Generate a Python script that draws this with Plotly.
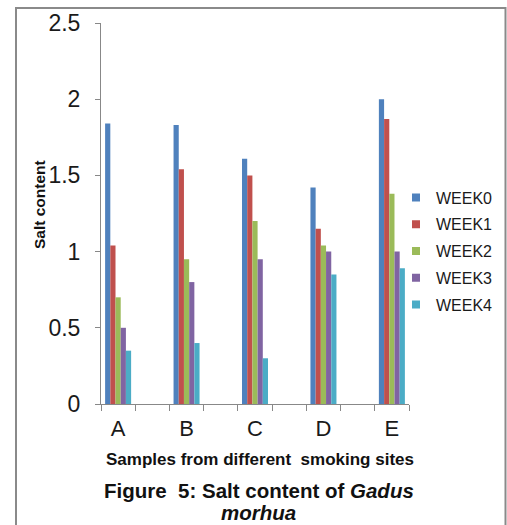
import plotly.graph_objects as go

# Salt content of smoked Gadus morhua, by smoking site and storage week
sites = ["A", "B", "C", "D", "E"]
weeks = ["WEEK0", "WEEK1", "WEEK2", "WEEK3", "WEEK4"]
week0 = [1.84, 1.83, 1.61, 1.42, 2.00]
week1 = [1.04, 1.54, 1.50, 1.15, 1.87]
week2 = [0.70, 0.95, 1.20, 1.04, 1.38]
week3 = [0.50, 0.80, 0.95, 1.00, 1.00]
week4 = [0.35, 0.40, 0.30, 0.85, 0.89]
y_ticks = [0, 0.5, 1, 1.5, 2, 2.5]
y_tick_text = ["0", "0.5", "1", "1.5", "2", "2.5"]

series = [week0, week1, week2, week3, week4]
colors = ["#4F81BD", "#C0504D", "#9BBB59", "#8064A2", "#4BACC6"]

# empty slots between sites give the wide spacing between groups
slots = ["A", " ", "B", "  ", "C", "   ", "D", "    ", "E"]

W, H = 507, 525
L, R, T, B = 101, 98, 23, 121
pw, ph = W - L - R, H - T - B


def px(x):
    return (x - L) / pw


def py(y):
    return (H - B - y) / ph


FONT = "Liberation Sans, Arial, sans-serif"

fig = go.Figure()
for name, vals, col in zip(weeks, series, colors):
    fig.add_trace(go.Bar(
        x=sites, y=vals, name=name, marker_color=col,
        marker_line_width=0, showlegend=False, legendgroup=name,
    ))
    fig.add_trace(go.Scatter(
        x=[None], y=[None], mode="markers", name=name, legendgroup=name,
        marker=dict(symbol="square", size=8, color=col),
    ))


def label(text, x, y, size, angle=0):
    return dict(text=text, textangle=angle, x=px(x), y=py(y),
                xref="paper", yref="paper", xanchor="center", yanchor="middle",
                showarrow=False, font=dict(size=size, family=FONT, color="#111"))


fig.update_layout(
    width=W, height=H,
    margin=dict(l=L, r=R, t=T, b=B, autoexpand=False),
    paper_bgcolor="white", plot_bgcolor="white",
    barmode="group", bargap=0.24, bargroupgap=0,
    font=dict(family=FONT, color="#1a1a1a"),
    legend=dict(
        x=px(396), y=py(251), xanchor="left", yanchor="middle",
        font=dict(size=16, family=FONT, color="#1a1a1a"),
        bgcolor="rgba(0,0,0,0)", itemwidth=30, tracegroupgap=3,
    ),
    xaxis=dict(
        type="category", categoryorder="array", categoryarray=slots,
        range=[-0.5, 8.5], tickson="boundaries", ticks="outside",
        ticklen=6, tickcolor="#888888", tickwidth=1,
        showline=True, linecolor="#888888", linewidth=1,
        showgrid=False, zeroline=False,
        tickfont=dict(size=22, family=FONT, color="#1a1a1a"),
        ticklabelstandoff=5,
    ),
    yaxis=dict(
        range=[0, 2.5], tickvals=y_ticks, ticktext=y_tick_text,
        ticks="outside", ticklen=5, tickcolor="#888888", tickwidth=1,
        showline=True, linecolor="#888888", linewidth=1,
        showgrid=False, zeroline=False,
        tickfont=dict(size=23, family=FONT, color="#1a1a1a"),
        ticklabelstandoff=10,
    ),
    shapes=[dict(
        type="rect", xref="paper", yref="paper",
        x0=px(16), x1=px(505.5), y0=py(560), y1=py(8),
        line=dict(color="#8a8a8a", width=2), fillcolor="rgba(0,0,0,0)",
        layer="below",
    )],
    annotations=[
        label("<b>Salt content</b>", 39, 205, 15.5, angle=-90),
        label("<b>Samples from different&nbsp; smoking sites</b>", 260, 459, 17),
        label("<b>Figure&nbsp; 5: Salt content of <i>Gadus</i></b>", 259, 490, 20.5),
        label("<b><i>morhua</i></b>", 258, 512, 20.5),
    ],
)

fig.write_html("out.html")
